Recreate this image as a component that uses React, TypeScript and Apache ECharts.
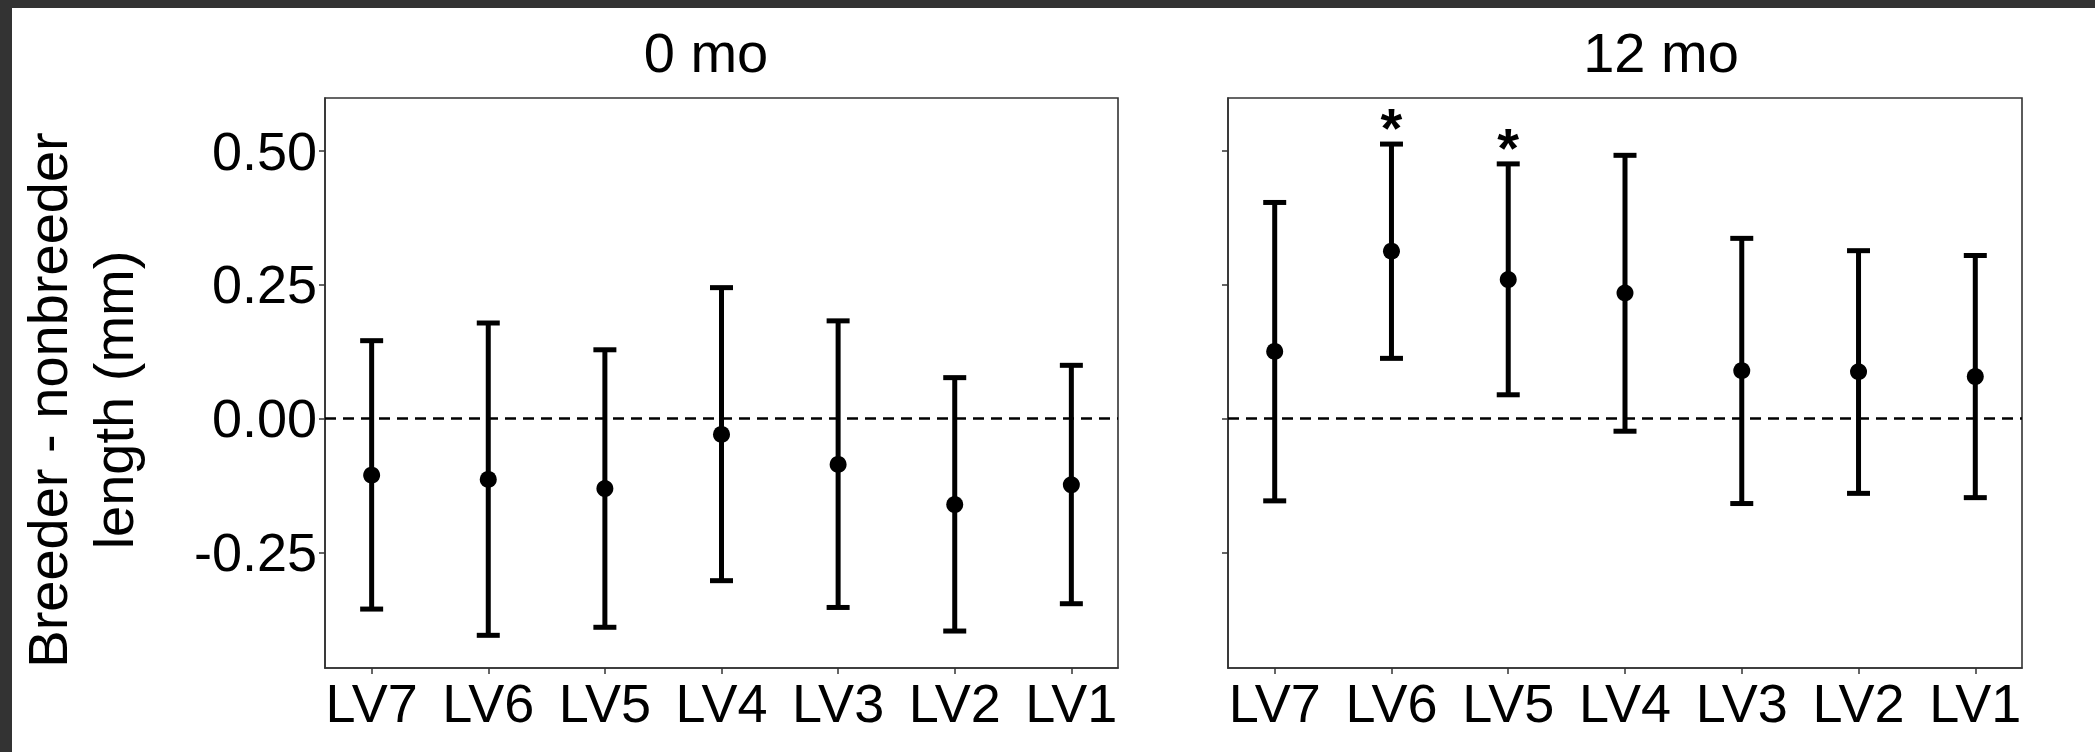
import React, { useEffect, useRef } from "react";
import * as echarts from "echarts";

// ---- data ----
const categories = ["LV7", "LV6", "LV5", "LV4", "LV3", "LV2", "LV1"];
const panelTitles = ["0 mo", "12 mo"];

const mean0 = [-0.106, -0.114, -0.131, -0.030, -0.086, -0.161, -0.124];
const lower0 = [-0.356, -0.405, -0.390, -0.303, -0.353, -0.397, -0.346];
const upper0 = [0.145, 0.178, 0.128, 0.244, 0.182, 0.076, 0.099];

const mean12 = [0.125, 0.312, 0.259, 0.234, 0.089, 0.087, 0.078];
const lower12 = [-0.154, 0.112, 0.044, -0.024, -0.159, -0.140, -0.148];
const upper12 = [0.403, 0.512, 0.475, 0.491, 0.336, 0.313, 0.304];

const sig0 = ["", "", "", "", "", "", ""];
const sig12 = ["", "*", "*", "", "", "", ""];

const yTicks = [-0.25, 0, 0.25, 0.5];
const Y_MIN = -0.466;
const Y_MAX = 0.598;
const yTitle = ["Breeder - nonbreeder", "length (mm)"];

const FONT = '"Liberation Sans", Arial, Helvetica, sans-serif';
const INK = "#000000";
const FRAME = "#333333";

const panels = [
  { mean: mean0, lower: lower0, upper: upper0, sig: sig0, left: 325, width: 793, titleX: 706 },
  { mean: mean12, lower: lower12, upper: upper12, sig: sig12, left: 1228, width: 794, titleX: 1661 },
];

export default function App() {
  const ref = useRef<HTMLDivElement>(null);

  useEffect(() => {
    if (!ref.current) return;
    const chart = echarts.init(ref.current, null, { renderer: "svg" });
    const idx = categories.map((_, i) => i);

    const grids = panels.map((p) => ({
      left: p.left,
      top: 98,
      width: p.width,
      height: 570,
      show: true,
      borderColor: FRAME,
      borderWidth: 1.6,
      backgroundColor: "transparent",
    }));

    const xAxes = panels.map((_, i) => ({
      gridIndex: i,
      type: "value",
      min: -0.4,
      max: 6.4,
      axisLine: { show: true, onZero: false, lineStyle: { color: FRAME, width: 1.6 } },
      axisTick: { show: true, length: 6, customValues: idx, lineStyle: { color: FRAME, width: 1.5 } },
      axisLabel: {
        show: true,
        customValues: idx,
        formatter: (v: number) => categories[Math.round(v)],
        fontSize: 54,
        fontFamily: FONT,
        color: INK,
        margin: 8,
      },
      splitLine: { show: false },
    }));

    const yAxes = panels.map((_, i) => ({
      gridIndex: i,
      type: "value",
      min: Y_MIN,
      max: Y_MAX,
      axisLine: { show: true, onZero: false, lineStyle: { color: FRAME, width: 1.6 } },
      axisTick: { show: true, length: 6, customValues: yTicks, lineStyle: { color: FRAME, width: 1.5 } },
      axisLabel: {
        show: i === 0,
        customValues: yTicks,
        formatter: (v: number) => v.toFixed(2),
        fontSize: 54,
        fontFamily: FONT,
        color: INK,
        margin: 8,
      },
      splitLine: { show: false },
    }));

    const series: any[] = [];
    panels.forEach((p, i) => {
      series.push({
        type: "scatter",
        xAxisIndex: i,
        yAxisIndex: i,
        z: 1,
        symbol: "circle",
        symbolSize: 17,
        itemStyle: { color: INK, opacity: 1 },
        data: p.mean.map((m, k) => [k, m]),
        markLine: {
          silent: true,
          symbol: "none",
          label: { show: false },
          lineStyle: { color: INK, width: 2.5, type: [11, 7], opacity: 1 },
          data: [{ yAxis: 0 }],
        },
      });
      series.push({
        type: "custom",
        xAxisIndex: i,
        yAxisIndex: i,
        z: 2,
        encode: { x: 0, y: [1, 2] },
        data: p.lower.map((lo, k) => [k, lo, p.upper[k]]),
        renderItem: (params: any, api: any) => {
          const x = api.value(0);
          const pLo = api.coord([x, api.value(1)]);
          const pHi = api.coord([x, api.value(2)]);
          const hw = 11.5;
          const st = { stroke: INK, lineWidth: 5 };
          return {
            type: "group",
            children: [
              { type: "line", shape: { x1: pHi[0], y1: pHi[1], x2: pLo[0], y2: pLo[1] }, style: st },
              { type: "line", shape: { x1: pHi[0] - hw, y1: pHi[1], x2: pHi[0] + hw, y2: pHi[1] }, style: st },
              { type: "line", shape: { x1: pLo[0] - hw, y1: pLo[1], x2: pLo[0] + hw, y2: pLo[1] }, style: st },
            ],
          };
        },
      });
      const sigData = p.sig
        .map((s, k) => (s ? [k, p.upper[k] + 0.038] : null))
        .filter(Boolean);
      if (sigData.length) {
        series.push({
          type: "scatter",
          xAxisIndex: i,
          yAxisIndex: i,
          z: 3,
          symbol: "circle",
          symbolSize: 1,
          itemStyle: { color: "rgba(0,0,0,0)", opacity: 1 },
          data: sigData,
          label: {
            show: true,
            position: "inside",
            formatter: "*",
            fontSize: 56,
            fontWeight: "bold",
            fontFamily: FONT,
            color: INK,
            opacity: 1,
            offset: [0, 4],
          },
        });
      }
    });

    const graphic: any[] = [
      { type: "rect", z: 100, shape: { x: 0, y: 0, width: 2095, height: 8 }, style: { fill: "#333333" } },
      { type: "rect", z: 100, shape: { x: 0, y: 0, width: 12, height: 752 }, style: { fill: "#333333" } },
    ];
    panels.forEach((p, i) => {
      graphic.push({
        type: "text",
        x: p.titleX,
        y: 52.6,
        style: {
          text: panelTitles[i],
          font: `56px ${FONT}`,
          fill: INK,
          align: "center",
          verticalAlign: "middle",
          textAlign: "center",
          textVerticalAlign: "middle",
        },
      });
    });
    [47.6, 113.6].forEach((x, j) => {
      graphic.push({
        type: "text",
        x,
        y: 400,
        rotation: Math.PI / 2,
        style: {
          text: yTitle[j],
          font: `56px ${FONT}`,
          fill: INK,
          align: "center",
          verticalAlign: "middle",
          textAlign: "center",
          textVerticalAlign: "middle",
        },
      });
    });

    chart.setOption({
      animation: false,
      backgroundColor: "#ffffff",
      grid: grids,
      xAxis: xAxes,
      yAxis: yAxes,
      series,
      graphic,
    });

    return () => chart.dispose();
  }, []);

  return (
    <div
      ref={ref}
      style={{ position: "absolute", left: 0, top: 0, width: 2095, height: 752, background: "#fff" }}
    />
  );
}
